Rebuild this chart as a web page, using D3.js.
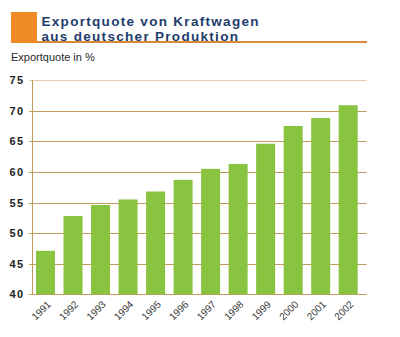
<!DOCTYPE html>
<html>
<head>
<meta charset="utf-8">
<script src="https://cdn.jsdelivr.net/npm/d3@7"></script>
<style>
  html, body { margin: 0; padding: 0; background: #ffffff; }
  svg { display: block; }
</style>
</head>
<body>
<svg id="chart" width="400" height="337"></svg>
<script>
// Export share of cars built in Germany, 1991–2002
const years = ["1991", "1992", "1993", "1994", "1995", "1996",
               "1997", "1998", "1999", "2000", "2001", "2002"];
const exportShare = [47.1, 52.8, 54.6, 55.5, 56.8, 58.7,
                     60.5, 61.3, 64.6, 67.5, 68.8, 70.9];
const yTicks = [40, 45, 50, 55, 60, 65, 70, 75];
const titleLines = ["Exportquote von Kraftwagen", "aus deutscher Produktion"];
const yAxisTitle = "Exportquote in %";

const svg = d3.select("#chart");

// Header block: orange square, two-line title, rule underneath
svg.append("rect")
  .attr("x", 11).attr("y", 12).attr("width", 26).attr("height", 31)
  .attr("fill", "#f08a24");

svg.append("line")
  .attr("x1", 37).attr("x2", 367).attr("y1", 42).attr("y2", 42)
  .attr("stroke", "#d88a3a").attr("stroke-width", 2);

svg.selectAll("text.title")
  .data(titleLines)
  .join("text")
  .attr("class", "title")
  .attr("x", 41.5)
  .attr("y", (d, i) => 26 + i * 14.5)
  .attr("font-family", "Liberation Sans, Arial, sans-serif")
  .attr("font-weight", "bold")
  .attr("font-size", 13.5)
  .attr("letter-spacing", 1.3)
  .attr("fill", "#1d3c6c")
  .text(d => d);

svg.append("text")
  .attr("x", 11).attr("y", 61)
  .attr("font-family", "Liberation Sans, Arial, sans-serif")
  .attr("font-size", 11)
  .attr("fill", "#2a2a2a")
  .text(yAxisTitle);

// Scales
const plotLeft = 32.5, plotRight = 366.5;
const y = d3.scaleLinear().domain([40, 75]).range([294.3, 80.1]);
const x = d3.scaleBand().domain(years).range([36, 357.7]).paddingInner(0.31).paddingOuter(0);

// Horizontal gridlines with a short tick left of the axis
const grid = svg.append("g");
grid.selectAll("line")
  .data(yTicks)
  .join("line")
  .attr("x1", plotLeft - 3.5).attr("x2", plotRight)
  .attr("y1", d => Math.round(y(d)) + 0.5).attr("y2", d => Math.round(y(d)) + 0.5)
  .attr("stroke", d => d === 75 ? "#e3cda6" : "#c39a5e")
  .attr("stroke-width", 1);

// Y axis labels via d3.axisLeft (domain and tick lines hidden)
const yAxis = svg.append("g")
  .attr("transform", `translate(${plotLeft - 8},0)`)
  .call(d3.axisLeft(y).tickValues(yTicks).tickSize(0).tickPadding(0));
yAxis.select(".domain").remove();
yAxis.selectAll("text")
  .attr("font-family", "Liberation Sans, Arial, sans-serif")
  .attr("font-weight", "bold")
  .attr("font-size", 11)
  .attr("letter-spacing", 1.4)
  .attr("fill", "#222222");

// Bars
svg.append("g")
  .selectAll("rect")
  .data(years)
  .join("rect")
  .attr("x", d => x(d))
  .attr("width", x.bandwidth())
  .attr("y", (d, i) => y(exportShare[i]))
  .attr("height", (d, i) => y(40) - y(exportShare[i]))
  .attr("fill", "#89c440");

// Vertical axis line
svg.append("line")
  .attr("x1", plotLeft).attr("x2", plotLeft)
  .attr("y1", y(75)).attr("y2", y(40) + 0.5)
  .attr("stroke", "#c39a5e").attr("stroke-width", 1);

// Rotated year labels
svg.append("g")
  .selectAll("text")
  .data(years)
  .join("text")
  .attr("transform", d => `translate(${x(d) + x.bandwidth() / 2 + 6},${305}) rotate(-45)`)
  .attr("text-anchor", "end")
  .attr("font-family", "Liberation Sans, Arial, sans-serif")
  .attr("font-size", 10)
  .attr("fill", "#3a3a3a")
  .text(d => d);
</script>
</body>
</html>
